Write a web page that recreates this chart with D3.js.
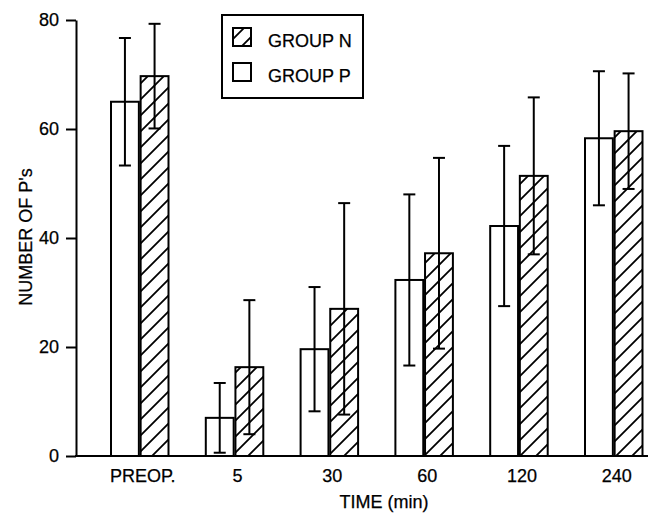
<!DOCTYPE html>
<html lang="en">
<head>
<meta charset="utf-8">
<title>Number of P's by time</title>
<script src="https://d3js.org/d3.v7.min.js"></script>
<style>
  body { margin: 0; background: #fff; }
  text { font-family: Arial, "Liberation Sans", Helvetica, sans-serif; fill: #000; stroke: #000; stroke-width: 0.25px; }
</style>
</head>
<body>
<svg id="chart" width="651" height="513"></svg>
<script>
// values
var categories = ["PREOP.", "5", "30", "60", "120", "240"];
var groupP   = [65.0, 7.0, 19.6, 32.3, 42.2, 58.3];
var groupPsd = [11.7, 6.4, 11.4, 15.7, 14.7, 12.3];
var groupN   = [69.7, 16.3, 27.0, 37.2, 51.4, 59.6];
var groupNsd = [9.6, 12.3, 19.4, 17.5, 14.4, 10.6];
var yTicks = [0, 20, 40, 60, 80];

var svg = d3.select("#chart");

// hatch for group N
var defs = svg.append("defs");
var pat = defs.append("pattern")
  .attr("id", "hatch")
  .attr("patternUnits", "userSpaceOnUse")
  .attr("width", 16).attr("height", 16);
pat.append("rect").attr("width", 16).attr("height", 16).attr("fill", "#fff");
pat.append("path")
  .attr("d", "M-4,4 L4,-4 M0,16 L16,0 M12,20 L20,12")
  .attr("stroke", "#000").attr("stroke-width", 1.8);

var y = d3.scaleLinear().domain([0, 80]).range([456, 20]);

var x0 = d3.scaleBand().domain(categories).range([92.35, 661.15]);
var x1 = d3.scaleBand().domain(["P", "N"]).range([0, 57.5]).paddingInner(0.06);
var inset = (x0.bandwidth() - 57.5) / 2;

// rows for the bars
var rows = [];
categories.forEach(function(c, i) {
  rows.push({cat: c, g: "P", v: groupP[i], sd: groupPsd[i]});
  rows.push({cat: c, g: "N", v: groupN[i], sd: groupNsd[i]});
});
function bx(d) { return x0(d.cat) + inset + x1(d.g); }

// y axis
var yAxis = svg.append("g")
  .attr("transform", "translate(76,0)")
  .call(d3.axisLeft(y).tickValues(yTicks).tickSize(10).tickSizeOuter(0).tickPadding(7));
yAxis.selectAll("path, line").attr("stroke", "#000").attr("stroke-width", 2);
yAxis.selectAll("text").attr("font-size", "18px").attr("font-family", "Arial, 'Liberation Sans', sans-serif").attr("fill", "#000");

// bars
svg.selectAll("rect.bar").data(rows).enter().append("rect")
  .attr("class", "bar")
  .attr("x", bx)
  .attr("y", function(d) { return y(d.v); })
  .attr("width", x1.bandwidth())
  .attr("height", function(d) { return y(0) - y(d.v); })
  .attr("fill", function(d) { return d.g == "N" ? "url(#hatch)" : "#fff"; })
  .attr("stroke", "#000")
  .attr("stroke-width", 2);

// error bars
var eb = svg.selectAll("g.err").data(rows).enter().append("g").attr("class", "err")
  .attr("stroke", "#000").attr("stroke-width", 2);
eb.append("line")
  .attr("x1", function(d) { return bx(d) + x1.bandwidth() / 2; })
  .attr("x2", function(d) { return bx(d) + x1.bandwidth() / 2; })
  .attr("y1", function(d) { return y(d.v + d.sd); })
  .attr("y2", function(d) { return y(Math.max(0, d.v - d.sd)); });
eb.append("line")
  .attr("x1", function(d) { return bx(d) + x1.bandwidth() / 2 - 6; })
  .attr("x2", function(d) { return bx(d) + x1.bandwidth() / 2 + 6; })
  .attr("y1", function(d) { return y(d.v + d.sd); })
  .attr("y2", function(d) { return y(d.v + d.sd); });
eb.append("line")
  .attr("x1", function(d) { return bx(d) + x1.bandwidth() / 2 - 6; })
  .attr("x2", function(d) { return bx(d) + x1.bandwidth() / 2 + 6; })
  .attr("y1", function(d) { return y(Math.max(0, d.v - d.sd)); })
  .attr("y2", function(d) { return y(Math.max(0, d.v - d.sd)); });

// x axis baseline and labels
svg.append("line")
  .attr("x1", 75).attr("x2", 648)
  .attr("y1", y(0)).attr("y2", y(0))
  .attr("stroke", "#000").attr("stroke-width", 2);
var xAxis = svg.append("g")
  .attr("transform", "translate(3," + y(0) + ")")
  .call(d3.axisBottom(x0).tickSize(0).tickPadding(13));
xAxis.select(".domain").remove();
xAxis.selectAll("text").attr("font-size", "18px").attr("font-family", "Arial, 'Liberation Sans', sans-serif").attr("fill", "#000");

// axis titles
svg.append("text")
  .attr("x", 384).attr("y", 508)
  .attr("text-anchor", "middle")
  .attr("font-size", "18px")
  .text("TIME (min)");
svg.append("text")
  .attr("transform", "translate(32,237) rotate(-90)")
  .attr("text-anchor", "middle")
  .attr("font-size", "18px")
  .text("NUMBER OF P's");

// legend
var lg = svg.append("g");
lg.append("rect")
  .attr("x", 222).attr("y", 15).attr("width", 141).attr("height", 83)
  .attr("fill", "#fff").attr("stroke", "#000").attr("stroke-width", 2);
lg.append("rect")
  .attr("x", 233).attr("y", 28).attr("width", 18).attr("height", 18)
  .attr("fill", "url(#hatch)").attr("stroke", "#000").attr("stroke-width", 2);
lg.append("rect")
  .attr("x", 233).attr("y", 63).attr("width", 18).attr("height", 18)
  .attr("fill", "#fff").attr("stroke", "#000").attr("stroke-width", 2);
lg.append("text").attr("x", 268).attr("y", 47).attr("font-size", "18px").text("GROUP N");
lg.append("text").attr("x", 268).attr("y", 82).attr("font-size", "18px").text("GROUP P");
</script>
</body>
</html>
